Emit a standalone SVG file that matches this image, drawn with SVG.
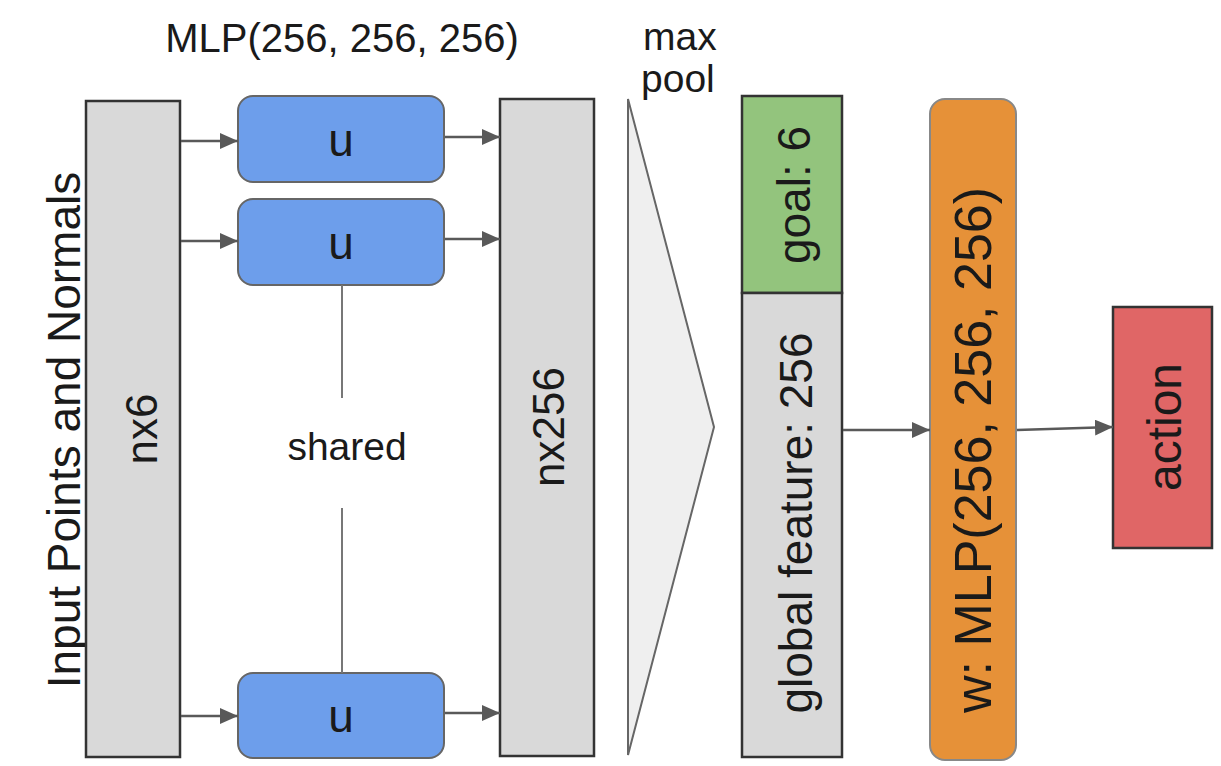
<svg xmlns="http://www.w3.org/2000/svg" width="1221" height="766" viewBox="0 0 1221 766">
<defs>
<style>
.t{font-family:"Liberation Sans",Arial,sans-serif;fill:#1a1a1a}
.gray{fill:#d9d9d9;stroke:#333;stroke-width:2.5}
.blue{fill:#6d9eeb;stroke:#666;stroke-width:2}
.conn{stroke:#595959;stroke-width:2.5;fill:none}
</style>
<marker id="ahb" viewBox="0 0 18 16" refX="18" refY="8" markerWidth="18" markerHeight="16" orient="auto" markerUnits="userSpaceOnUse">
<path d="M0,0 L18,8 L0,16 z" fill="#595959"/>
</marker>
</defs>
<rect width="1221" height="766" fill="#fff"/>

<g id="label-mlp-top"><text class="t" x="342" y="52" font-size="40" text-anchor="middle">MLP(256, 256, 256)</text></g>
<g id="label-maxpool"><text class="t" x="643" y="50" font-size="39">max</text><text class="t" x="641" y="92" font-size="39">pool</text></g>

<g id="input-label"><text class="t" transform="translate(80,430) rotate(-90)" font-size="46" text-anchor="middle">Input Points and Normals</text></g>

<g id="nx6"><rect class="gray" x="86" y="101" width="94" height="656"/><text class="t" transform="translate(157,429) rotate(-90)" font-size="44" text-anchor="middle">nx6</text></g>

<g id="u1"><rect class="blue" x="238" y="96" width="206" height="86" rx="15"/><text class="t" x="341" y="156" font-size="46" text-anchor="middle">u</text></g>
<g id="u2"><rect class="blue" x="238" y="199" width="206" height="86" rx="15"/><text class="t" x="341" y="259" font-size="46" text-anchor="middle">u</text></g>
<g id="u3"><rect class="blue" x="238" y="673" width="206" height="85" rx="15"/><text class="t" x="341" y="732" font-size="46" text-anchor="middle">u</text></g>

<g id="shared"><line x1="342" y1="285" x2="342" y2="398" stroke="#777" stroke-width="2"/><line x1="342" y1="508" x2="342" y2="673" stroke="#777" stroke-width="2"/><text class="t" x="347" y="460" font-size="39" text-anchor="middle">shared</text></g>

<g id="nx256"><rect class="gray" x="500" y="99" width="94" height="657"/><text class="t" transform="translate(564,427) rotate(-90)" font-size="44" text-anchor="middle">nx256</text></g>

<g id="maxpool"><polygon points="628,99 714,427 628,755" fill="#efefef" stroke="#666" stroke-width="2"/></g>

<g id="goal"><rect x="742" y="96" width="100" height="197" fill="#93c47d" stroke="#333" stroke-width="2.5"/><text class="t" transform="translate(810,195) rotate(-90)" font-size="46" text-anchor="middle">goal: 6</text></g>
<g id="global"><rect class="gray" x="742" y="293" width="100" height="464"/><text class="t" transform="translate(812,523) rotate(-90)" font-size="46" text-anchor="middle">global feature: 256</text></g>

<g id="mlp-w"><rect x="930" y="99" width="86" height="661" rx="15" fill="#e69138" stroke="#888" stroke-width="2"/><text class="t" transform="translate(991,450) rotate(-90)" font-size="52" text-anchor="middle">w: MLP(256, 256, 256)</text></g>

<g id="action"><rect x="1113" y="307" width="99" height="241" fill="#e06666" stroke="#333" stroke-width="2.5"/><text class="t" transform="translate(1181,427) rotate(-90)" font-size="48" text-anchor="middle">action</text></g>

<g id="connectors">
<line class="conn" x1="181" y1="141" x2="238" y2="141" marker-end="url(#ahb)"/>
<line class="conn" x1="181" y1="241" x2="238" y2="241" marker-end="url(#ahb)"/>
<line class="conn" x1="181" y1="716" x2="238" y2="716" marker-end="url(#ahb)"/>
<line class="conn" x1="445" y1="137" x2="500" y2="137" marker-end="url(#ahb)"/>
<line class="conn" x1="445" y1="239" x2="500" y2="239" marker-end="url(#ahb)"/>
<line class="conn" x1="445" y1="713" x2="500" y2="713" marker-end="url(#ahb)"/>
<line class="conn" x1="843" y1="430" x2="930" y2="430" marker-end="url(#ahb)"/>
<line class="conn" x1="1017" y1="430" x2="1113" y2="427" marker-end="url(#ahb)"/>
</g>
</svg>
